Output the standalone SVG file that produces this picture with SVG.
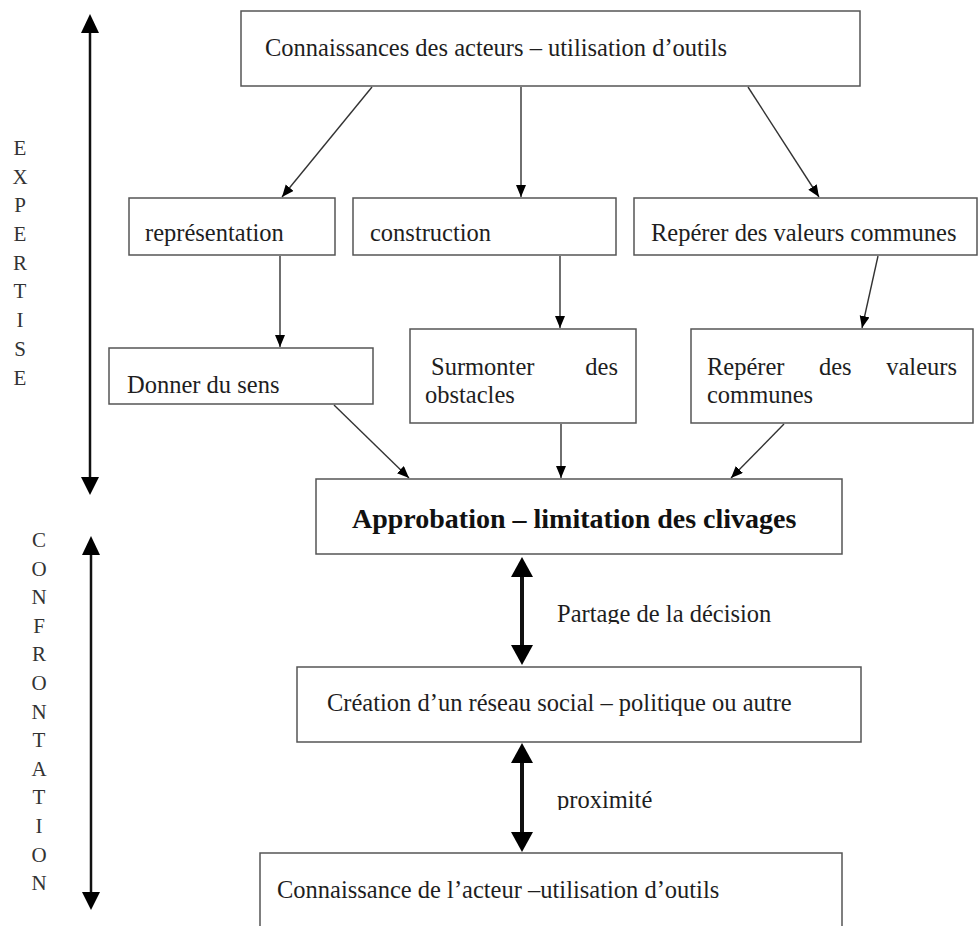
<svg xmlns="http://www.w3.org/2000/svg" width="979" height="926" viewBox="0 0 979 926">
<style>
  .box { fill: #ffffff; stroke: #555555; stroke-width: 1.5; }
  .t { font-family: "Liberation Serif", "Times New Roman", serif; font-size: 24.5px; fill: #1e1e1e; }
  .tb { font-family: "Liberation Serif", "Times New Roman", serif; font-size: 28px; font-weight: bold; fill: #111111; }
  .lbl { font-family: "Liberation Serif", "Times New Roman", serif; font-size: 21px; fill: #333333; text-anchor: middle; }
  .conn { stroke: #333333; stroke-width: 1.4; fill: none; }
  .thick { stroke: #111111; fill: none; }
  .head { fill: #000000; }
</style>
<defs>
  <marker id="arr" markerUnits="userSpaceOnUse" markerWidth="13" markerHeight="11" refX="12" refY="5" orient="auto">
    <path d="M0,0 L12,5 L0,10 z" fill="#000000"/>
  </marker>
  <clipPath id="clipPartage"><rect x="540" y="590" width="260" height="34"/></clipPath>
  <clipPath id="clipProx"><rect x="540" y="780" width="160" height="30"/></clipPath>
</defs>

<rect x="0" y="0" width="979" height="926" fill="#ffffff"/>

<g id="axis-expertise">
  <line class="thick" x1="90" y1="31" x2="90" y2="479" stroke-width="2.5"/>
  <polygon class="head" points="90,14 81,33 99,33"/>
  <polygon class="head" points="90,495 81,477 99,477"/>
  <text class="lbl" x="20" y="155">E</text>
  <text class="lbl" x="20" y="184">X</text>
  <text class="lbl" x="20" y="212">P</text>
  <text class="lbl" x="20" y="241">E</text>
  <text class="lbl" x="20" y="270">R</text>
  <text class="lbl" x="20" y="298">T</text>
  <text class="lbl" x="20" y="327">I</text>
  <text class="lbl" x="20" y="356">S</text>
  <text class="lbl" x="20" y="385">E</text>
</g>

<g id="axis-confrontation">
  <line class="thick" x1="91" y1="552" x2="91" y2="894" stroke-width="2.5"/>
  <polygon class="head" points="91,536 82,555 100,555"/>
  <polygon class="head" points="91,910 82,892 100,892"/>
  <text class="lbl" x="39" y="547">C</text>
  <text class="lbl" x="39" y="576">O</text>
  <text class="lbl" x="39" y="604">N</text>
  <text class="lbl" x="39" y="633">F</text>
  <text class="lbl" x="39" y="661">R</text>
  <text class="lbl" x="39" y="690">O</text>
  <text class="lbl" x="39" y="719">N</text>
  <text class="lbl" x="39" y="747">T</text>
  <text class="lbl" x="39" y="776">A</text>
  <text class="lbl" x="39" y="804">T</text>
  <text class="lbl" x="39" y="833">I</text>
  <text class="lbl" x="39" y="862">O</text>
  <text class="lbl" x="39" y="890">N</text>
</g>

<g id="connectors">
  <line class="conn" x1="372" y1="87" x2="282" y2="197" marker-end="url(#arr)"/>
  <line class="conn" x1="521" y1="87" x2="521" y2="197" marker-end="url(#arr)"/>
  <line class="conn" x1="748" y1="87" x2="819" y2="197" marker-end="url(#arr)"/>
  <line class="conn" x1="280" y1="256" x2="280" y2="347" marker-end="url(#arr)"/>
  <line class="conn" x1="560" y1="256" x2="560" y2="328" marker-end="url(#arr)"/>
  <line class="conn" x1="878" y1="256" x2="862" y2="328" marker-end="url(#arr)"/>
  <line class="conn" x1="334" y1="405" x2="409" y2="478" marker-end="url(#arr)"/>
  <line class="conn" x1="561" y1="424" x2="561" y2="478" marker-end="url(#arr)"/>
  <line class="conn" x1="784" y1="424" x2="731" y2="478" marker-end="url(#arr)"/>
  <g id="link-partage">
    <line class="thick" x1="522" y1="575" x2="522" y2="647" stroke-width="4"/>
    <polygon class="head" points="522,557 511,577 533,577"/>
    <polygon class="head" points="522,665 511,645 533,645"/>
  </g>
  <g id="link-proximite">
    <line class="thick" x1="522" y1="761" x2="522" y2="834" stroke-width="4"/>
    <polygon class="head" points="522,743 511,763 533,763"/>
    <polygon class="head" points="522,852 511,832 533,832"/>
  </g>
</g>

<g id="edge-labels">
  <text class="t" x="557" y="622" fill="#444444" clip-path="url(#clipPartage)">Partage de la décision</text>
  <text class="t" x="557" y="808" fill="#444444" clip-path="url(#clipProx)">proximité</text>
</g>

<g id="node-connaissances-acteurs">
  <rect class="box" x="241" y="11" width="619" height="75"/>
  <text class="t" x="265" y="56">Connaissances des acteurs – utilisation d’outils</text>
</g>

<g id="node-representation">
  <rect class="box" x="129" y="198" width="206" height="57"/>
  <text class="t" x="145" y="241">représentation</text>
</g>

<g id="node-construction">
  <rect class="box" x="353" y="198" width="263" height="57"/>
  <text class="t" x="370" y="241">construction</text>
</g>

<g id="node-reperer-1">
  <rect class="box" x="634" y="198" width="343" height="57"/>
  <text class="t" x="651" y="241">Repérer des valeurs communes</text>
</g>

<g id="node-donner-sens">
  <rect class="box" x="109" y="348" width="264" height="56"/>
  <text class="t" x="127" y="393">Donner du sens</text>
</g>

<g id="node-surmonter">
  <rect class="box" x="410" y="329" width="226" height="94"/>
  <text class="t" x="431" y="375">Surmonter</text>
  <text class="t" x="618" y="375" text-anchor="end">des</text>
  <text class="t" x="425" y="403">obstacles</text>
</g>

<g id="node-reperer-2">
  <rect class="box" x="691" y="329" width="282" height="94"/>
  <text class="t" x="707" y="375">Repérer</text>
  <text class="t" x="819" y="375">des</text>
  <text class="t" x="957" y="375" text-anchor="end">valeurs</text>
  <text class="t" x="707" y="403">communes</text>
</g>

<g id="node-approbation">
  <rect class="box" x="316" y="479" width="526" height="75"/>
  <text class="tb" x="352" y="528">Approbation – limitation des clivages</text>
</g>

<g id="node-creation-reseau">
  <rect class="box" x="297" y="667" width="564" height="75"/>
  <text class="t" x="327" y="711">Création d’un réseau social – politique ou autre</text>
</g>

<g id="node-connaissance-acteur">
  <rect class="box" x="260" y="853" width="582" height="100"/>
  <text class="t" x="277" y="898">Connaissance de l’acteur –utilisation d’outils</text>
</g>
</svg>
